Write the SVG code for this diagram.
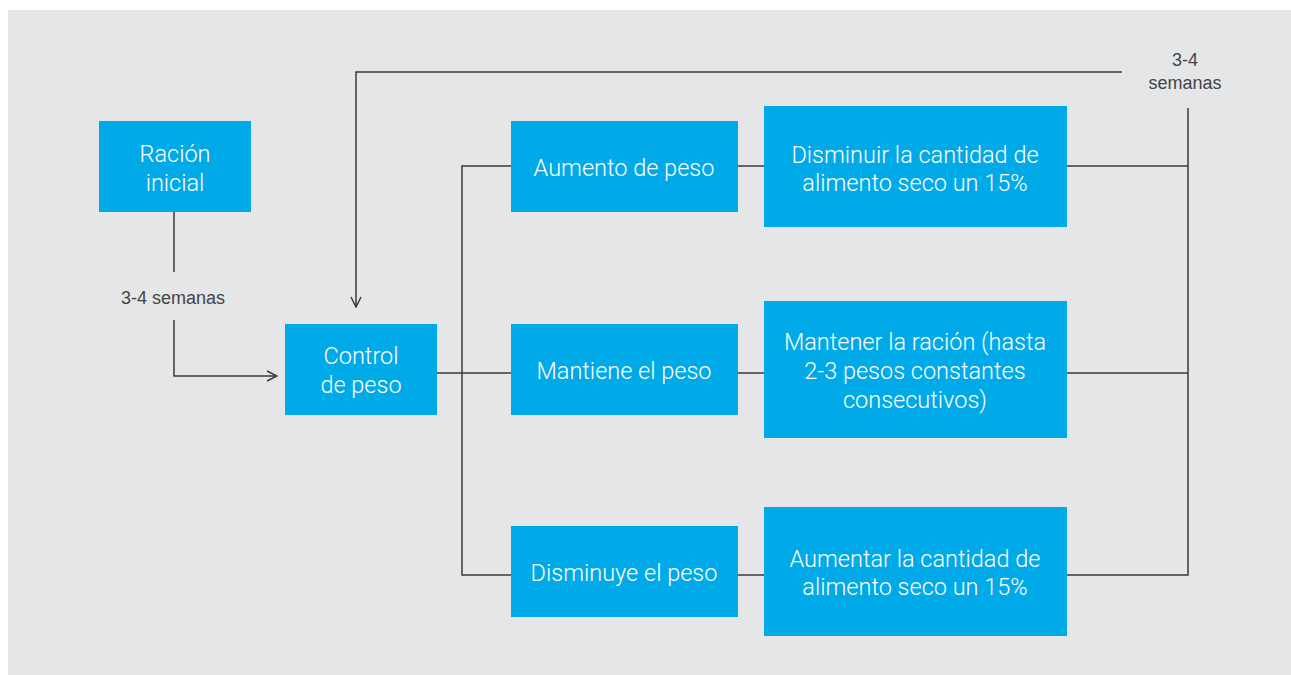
<svg xmlns="http://www.w3.org/2000/svg" width="1291" height="675" viewBox="0 0 1291 675">
<style>
.box{fill:#00a9e7}
.t{font-family:Roboto,"Liberation Sans",Arial,sans-serif;font-weight:300;font-size:23.5px;fill:#ffffff;text-anchor:middle}
.lbl{font-family:"Liberation Sans",Arial,sans-serif;font-size:18px;fill:#444444;text-anchor:middle}
.ln{fill:none;stroke:#3a3a3a;stroke-width:1.5}
</style>
<defs>
<marker id="arr" viewBox="0 0 12 12" refX="11" refY="6" markerWidth="12" markerHeight="12" markerUnits="userSpaceOnUse" orient="auto">
<path d="M1,1 L11,6 L1,11" fill="none" stroke="#3a3a3a" stroke-width="1.5"/>
</marker>
</defs>
<rect x="8" y="10" width="1283" height="665" fill="#e5e6e8"/>
<g id="connectors">
<path class="ln" d="M174,212 V272"/>
<path class="ln" d="M174,320 V376 H277" marker-end="url(#arr)"/>
<path class="ln" d="M1122,72 H356 V307" marker-end="url(#arr)"/>
<path class="ln" d="M437,373 H511"/>
<path class="ln" d="M511,166 H462 V575 H511"/>
<path class="ln" d="M738,166 H764"/>
<path class="ln" d="M738,373 H764"/>
<path class="ln" d="M738,575 H764"/>
<path class="ln" d="M1067,166 H1188"/>
<path class="ln" d="M1067,373 H1188"/>
<path class="ln" d="M1067,575 H1188 V108"/>
<text class="lbl" x="173" y="304">3-4 semanas</text>
<text class="lbl" x="1185" y="66">3-4</text>
<text class="lbl" x="1185" y="89">semanas</text>
</g>
<g id="racion">
<rect class="box" x="99" y="121" width="152" height="91"/>
<text class="t" x="175" y="162">Ración</text>
<text class="t" x="175" y="191">inicial</text>
</g>
<g id="control">
<rect class="box" x="285" y="324" width="152" height="91"/>
<text class="t" x="361" y="364">Control</text>
<text class="t" x="361" y="393">de peso</text>
</g>
<g id="aumento">
<rect class="box" x="511" y="121" width="227" height="91"/>
<text class="t" x="624" y="176">Aumento de peso</text>
</g>
<g id="mantiene">
<rect class="box" x="511" y="324" width="227" height="91"/>
<text class="t" x="624" y="379">Mantiene el peso</text>
</g>
<g id="disminuye">
<rect class="box" x="511" y="526" width="227" height="91"/>
<text class="t" x="624" y="581">Disminuye el peso</text>
</g>
<g id="disminuir">
<rect class="box" x="764" y="106" width="303" height="121"/>
<text class="t" x="915" y="163">Disminuir la cantidad de</text>
<text class="t" x="915" y="191">alimento seco un 15%</text>
</g>
<g id="mantener">
<rect class="box" x="764" y="301" width="303" height="137"/>
<text class="t" x="915" y="350">Mantener la ración (hasta</text>
<text class="t" x="915" y="379">2-3 pesos constantes</text>
<text class="t" x="915" y="408">consecutivos)</text>
</g>
<g id="aumentar">
<rect class="box" x="764" y="507" width="303" height="129"/>
<text class="t" x="915" y="567">Aumentar la cantidad de</text>
<text class="t" x="915" y="595">alimento seco un 15%</text>
</g>
</svg>
